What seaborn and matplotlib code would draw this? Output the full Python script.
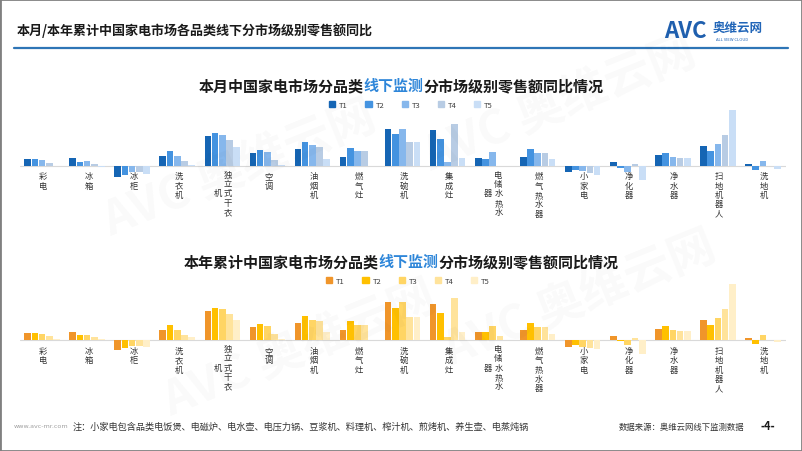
import numpy as np
import pandas as pd
import matplotlib.pyplot as plt
import seaborn as sns
from matplotlib.patches import Rectangle
from matplotlib.lines import Line2D

categories = ['彩电', '冰箱', '冰柜', '洗衣机', '独立式干衣机', '空调', '油烟机', '燃气灶', '洗碗机',
              '集成灶', '电储水热水器', '燃气热水器', '小家电', '净化器', '净水器', '扫地机器人', '洗地机']
tiers = ['T1', 'T2', 'T3', 'T4', 'T5']

# values (no axis in the reference, so relative bar heights)
month_t1 = [6.7, 8.0, -11.0, 9.7, 29.5, 12.5, 16.8, 9.3, 37.0, 36.0, 7.7, 9.3, -5.7, 4.3, 11.0, 19.7, 2.3]
month_t2 = [6.7, 4.3, -8.7, 15.0, 32.5, 15.5, 23.8, 18.3, 31.7, 27.0, 7.3, 17.0, -4.3, -1.7, 13.3, 15.3, -4.3]
month_t3 = [5.7, 5.0, -6.0, 9.7, 30.8, 13.8, 20.5, 14.7, 37.3, 4.0, 14.0, 12.7, -5.3, -6.3, 9.3, 21.7, 5.3]
month_t4 = [3.0, 2.3, -6.0, 4.7, 25.5, 6.2, 18.5, 14.7, 23.5, 42.0, 0.0, 12.7, -6.7, 1.7, 8.0, 31.0, 0.3]
month_t5 = [0.3, -1.5, -7.7, 0.5, 19.3, 0.8, 7.3, 0.0, 23.5, 7.7, 0.0, 6.7, -8.7, -13.7, 8.0, 55.7, -3.3]

year_t1 = [7.3, 8.7, -10.0, 10.3, 29.7, 13.3, 17.7, 10.0, 38.3, 36.7, 8.3, 10.3, -6.3, 4.7, 11.7, 20.0, 2.3]
year_t2 = [7.3, 5.3, -8.0, 15.3, 32.7, 16.7, 24.7, 19.7, 32.7, 27.7, 8.3, 17.7, -5.0, -1.0, 14.0, 15.7, -4.0]
year_t3 = [6.3, 5.3, -5.7, 10.0, 31.3, 14.7, 20.7, 15.0, 38.7, 3.7, 14.3, 13.0, -6.3, -5.0, 10.0, 22.0, 5.7]
year_t4 = [4.0, 3.7, -5.7, 5.7, 26.0, 6.7, 19.7, 15.0, 23.7, 42.7, 4.0, 13.0, -7.3, 2.3, 9.0, 31.7, 0.7]
year_t5 = [1.3, 1.3, -6.7, 3.3, 20.7, 1.0, 8.0, 0.0, 23.7, 8.7, 0.0, 6.3, -8.3, -14.0, 9.0, 56.3, -1.7]

blue_colors = ['#1565B4', '#4493E0', '#86B7EC', '#B8CCE4', '#C9DEF6']
orange_colors = ['#F0952A', '#FFC000', '#FFD564', '#FFE39B', '#FFEFC8']

W, H = 802, 452


def fx(x):
    return x / W


def fy(y):
    return 1 - y / H


def long_df(series):
    rows = []
    for tier, vals in zip(tiers, series):
        for cat, v in zip(categories, vals):
            rows.append({'cat': cat, 'tier': tier, 'val': v})
    return pd.DataFrame(rows)


sns.set_theme(style='white')
plt.rcParams['font.family'] = ['Noto Sans CJK SC', 'DejaVu Sans']

fig = plt.figure(figsize=(W / 100, H / 100), dpi=100)

# faint watermarks
for (x, y) in [(240, 170), (560, 105), (300, 350), (580, 300)]:
    fig.text(fx(x), fy(y), 'AVC 奥维云网', fontsize=34, weight='bold', color='#000000',
             alpha=0.025, rotation=22, ha='center', va='center')


def draw_panel(ax, series, colors, top, bottom, base, title_parts, title_y, legend_xy):
    df = long_df(series)
    sns.barplot(data=df, x='cat', y='val', hue='tier', order=categories, hue_order=tiers,
                palette=colors, width=0.8, gap=0.08, errorbar=None, legend=False,
                linewidth=0, saturation=1, ax=ax)
    ax.set_position([fx(19.5), fy(bottom), 766 / W, (bottom - top) / H])
    ax.set_xlim(-0.5, len(categories) - 0.5)
    ax.set_ylim(-(bottom - base), base - top)
    ax.axhline(0, color='#D9D9D9', lw=0.8, zorder=0)
    ax.set_xticks([])
    ax.set_yticks([])
    ax.set_xlabel('')
    ax.set_ylabel('')
    sns.despine(ax=ax, left=True, bottom=True)
    ax.patch.set_alpha(0)

    pitch = 8.6
    for i, name in enumerate(categories):
        if len(name) <= 5:
            ax.text(i + 0.03, -5.5, '\n'.join(name), ha='center', va='top', fontsize=6,
                    linespacing=1.05, color='#333333', clip_on=False)
        else:
            cy = -5.5 - 2.5 * pitch
            ax.text(i + 0.13, cy, '\n'.join(name[:5]), ha='center', va='center', fontsize=6,
                    linespacing=1.05, color='#333333', clip_on=False)
            ax.text(i - 0.1, cy, '\n'.join(name[5:]), ha='center', va='center', fontsize=6,
                    linespacing=1.05, color='#333333', clip_on=False)

    # title with a blue middle part
    n_chars = sum(len(p) for p in title_parts)
    char_px = 15.0
    x0 = 401 - n_chars * char_px / 2
    t = fig.text(fx(x0), fy(title_y), title_parts[0], fontsize=10.8, weight='bold',
                 color='#1A1A1A', va='center', ha='left')
    t = ax.annotate(title_parts[1], xy=(1, 0.5), xycoords=t, fontsize=10.8, weight='bold',
                    color='#2E86D9', va='center', ha='left', annotation_clip=False)
    ax.annotate(title_parts[2], xy=(1, 0.5), xycoords=t, fontsize=10.8, weight='bold',
                color='#1A1A1A', va='center', ha='left', annotation_clip=False)

    handles = [Rectangle((0, 0), 1, 1, color=c) for c in colors]
    fig.legend(handles, tiers, ncol=5, loc='center', bbox_to_anchor=(fx(legend_xy[0]), fy(legend_xy[1])),
               frameon=False, fontsize=5.5, handlelength=0.8, handleheight=0.8,
               handletextpad=0.5, columnspacing=2.3, labelcolor='#404040')


ax1 = fig.add_axes([0, 0, 1, 1])
draw_panel(ax1, [month_t1, month_t2, month_t3, month_t4, month_t5], blue_colors,
           top=95, bottom=185, base=166.8,
           title_parts=['本月中国家电市场分品类', '线下监测', '分市场级别零售额同比情况'],
           title_y=86, legend_xy=(411, 106))

ax2 = fig.add_axes([0, 0, 1, 1])
draw_panel(ax2, [year_t1, year_t2, year_t3, year_t4, year_t5], orange_colors,
           top=272, bottom=360, base=341.3,
           title_parts=['本年累计中国家电市场分品类', '线下监测', '分市场级别零售额同比情况'],
           title_y=262, legend_xy=(408, 282))

# page title and rule
fig.text(fx(17), fy(31), '本月/本年累计中国家电市场各品类线下分市场级别零售额同比', fontsize=9.4,
         weight='bold', color='#1A1A1A', va='center', ha='left')
fig.add_artist(Line2D([fx(14), fx(788)], [fy(49), fy(49)], color='#2E75B6', lw=1.6))

# logo
fig.text(fx(664), fy(31), 'AVC', fontsize=16, weight='bold', style='italic', color='#1F5FAE',
         va='center', ha='left')
fig.text(fx(713), fy(28), '奥维云网', fontsize=9, weight='bold', color='#2266B8', va='center', ha='left')
fig.text(fx(716), fy(40), 'ALL VIEW CLOUD', fontsize=3, color='#2266B8', va='center', ha='left')

# footer
fig.text(fx(14), fy(427), 'www.avc-mr.com', fontsize=4.6, family='DejaVu Sans', color='#A0A0A0',
         va='center', ha='left')
fig.text(fx(73), fy(427), '注：小家电包含品类电饭煲、电磁炉、电水壶、电压力锅、豆浆机、料理机、榨汁机、煎烤机、养生壶、电蒸炖锅',
         fontsize=6.6, color='#333333', va='center', ha='left')
fig.text(fx(619), fy(427), '数据来源：奥维云网线下监测数据', fontsize=6, color='#333333', va='center', ha='left')
fig.text(fx(768), fy(427), '-4-', fontsize=8, weight='bold', color='#1A1A1A', va='center', ha='center')

fig.add_artist(Rectangle((0, 0), 1, 1, transform=fig.transFigure, fill=False,
                         edgecolor='#808080', lw=2))

fig.savefig('out.png', dpi=100)
